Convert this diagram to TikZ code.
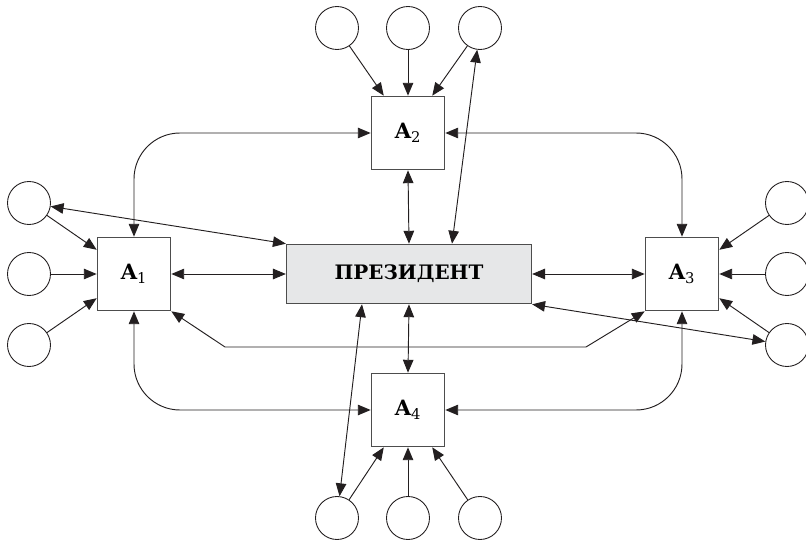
\documentclass[tikz,border=0pt]{standalone}
\usepackage{fontspec}
\setmainfont{DejaVu Serif}
\usetikzlibrary{arrows.meta,calc}

\definecolor{linegray}{HTML}{231F20}
\definecolor{boxgray}{HTML}{4D4D4D}
\definecolor{presfill}{HTML}{E6E7E8}

\tikzset{
  >={Triangle[length=11pt,width=9pt]},
  agent/.style={draw=boxgray, line width=1.1pt, fill=white, minimum width=2.2cm, minimum height=2.2cm, inner sep=0pt, font=\fontsize{18}{20}\selectfont\bfseries},
  chief/.style={draw=boxgray, line width=1.1pt, fill=presfill, minimum width=7.35cm, minimum height=1.78cm, font=\fontsize{17}{20}\selectfont\bfseries},
  ring/.style={draw=linegray, line width=0.75pt, circle, minimum size=1.29cm, inner sep=0pt},
  link/.style={draw=linegray, line width=0.8pt},
}

\begin{document}
\begin{tikzpicture}[x=0.03cm, y=-0.03cm]
    \useasboundingbox (0,0) rectangle (806,540);

    \coordinate (p0) at (409, 274);
    \coordinate (c1) at (134, 274);
    \coordinate (c2) at (408, 133);
    \coordinate (c3) at (682, 274);
    \coordinate (c4) at (408, 410);

    \node[chief] (pres) at (p0) {ПРЕЗИДЕНТ};
    \node[agent] (a1) at (c1) {A\textsubscript{\mdseries 1}};
    \node[agent] (a2) at (c2) {A\textsubscript{\mdseries 2}};
    \node[agent] (a3) at (c3) {A\textsubscript{\mdseries 3}};
    \node[agent] (a4) at (c4) {A\textsubscript{\mdseries 4}};

    % small circles round each box
    \foreach \i/\x in {1/337, 2/408, 3/480} {
      \node[ring] (t\i) at (\x, 28) {};
      \node[ring] (b\i) at (\x, 518) {};
    }
    \foreach \i/\y in {1/203, 2/274, 3/345} {
      \node[ring] (l\i) at (29, \y) {};
      \node[ring] (r\i) at (787, \y) {};
    }

    \draw[link, ->] (t1) -- (a2.123);
    \draw[link, ->] (t2) -- (a2.north);
    \draw[link, ->] (t3) -- (a2.57);
    \draw[link, ->] (l1) -- (a1.147);
    \draw[link, ->] (l2) -- (a1.west);
    \draw[link, ->] (l3) -- (a1.213);
    \draw[link, ->] (r1) -- (a3.33);
    \draw[link, ->] (r2) -- (a3.east);
    \draw[link, ->] (r3) -- (a3.-33);
    \draw[link, ->] (b1) -- (a4.-123);
    \draw[link, ->] (b2) -- (a4.south);
    \draw[link, ->] (b3) -- (a4.-57);

    \draw[link, <->] (a1.east) -- (pres.west);
    \draw[link, <->] (pres.east) -- (a3.west);
    \draw[link, <->] (a2.south) -- (pres.north);
    \draw[link, <->] (pres.south) -- (a4.north);

    \draw[link, <->] (pres.north west) -- (l1);
    \draw[link, <->] ($(pres.north)+(43,0)$) -- (t3);
    \draw[link, <->] (pres.south east) -- (r3);
    \draw[link, <->] ($(pres.south)+(-47,0)$) -- (b1);

    \draw[link, <->, rounded corners=1.38cm] (a1.north) |- (a2.west);
    \draw[link, <->, rounded corners=1.38cm] (a2.east) -| (a3.north);
    \draw[link, <->, rounded corners=1.38cm] (a1.south) |- (a4.west);
    \draw[link, <->, rounded corners=1.38cm] (a3.south) |- (a4.east);

    \coordinate (k1) at (225, 347);
    \coordinate (k2) at (586, 347);
    \draw[link, <->] (a1.south east) -- (k1) -- (k2) -- (a3.south west);
  \end{tikzpicture}
\end{document}
